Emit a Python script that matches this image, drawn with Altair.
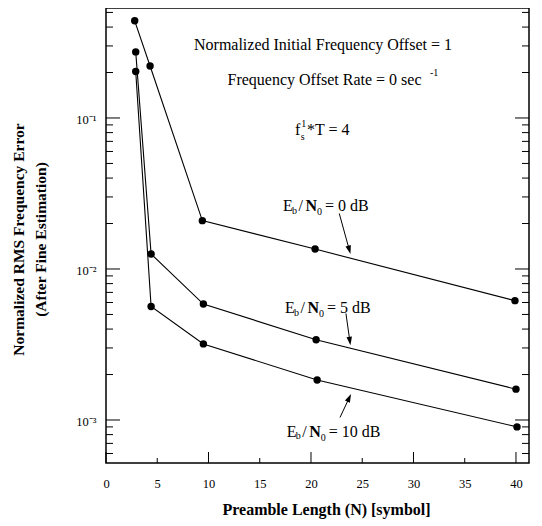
import altair as alt
import pandas as pd

# ---------------- data ----------------
N_0dB = [2.8, 4.3, 9.4, 20.4, 39.9]
err_0dB = [0.440, 0.221, 0.0209, 0.01355, 0.00617]
N_5dB = [2.9, 4.4, 9.5, 20.5, 40.0]
err_5dB = [0.274, 0.01257, 0.00586, 0.0034, 0.0016]
N_10dB = [2.9, 4.4, 9.5, 20.6, 40.1]
err_10dB = [0.203, 0.00565, 0.00319, 0.00184, 0.00090]

x_tick_values = [0, 5, 10, 15, 20, 25, 30, 35, 40]
x_major_ticks = [0, 10, 20, 30, 40]
x_minor_ticks = [5, 15, 25, 35]
y_major_ticks = [0.001, 0.01, 0.1]

X_TITLE = "Preamble Length (N) [symbol]"
Y_TITLE = ["Normalized RMS Frequency Error", "(After Fine Estimation)"]

# annotation anchors (data units)
note_text = ["Normalized Initial Frequency Offset = 1", "Frequency Offset Rate = 0 sec"]
note_x = [21.17, 21.32]
note_y = [0.304, 0.1786]
fT_x = [18.44]
fT_y = [0.0834]
eb_rest = ["= 0 dB", "= 5 dB", "= 10 dB"]
eb_x = [17.27, 17.46, 17.63]
eb_y = [0.0261, 0.00549, 0.000837]
arrow_x0 = [22.76, 23.41, 22.83]
arrow_y0 = [0.02331, 0.005074, 0.001039]
arrow_x1 = [23.72, 23.78, 23.70]
arrow_y1 = [0.01352, 0.003368, 0.001388]
arrow_angle = [164.6, 172.0, 25.1]

# ---------------- layout ----------------
W, H = 423, 455
X_DOMAIN = [0, 41.27]
Y_DOMAIN = [5.19e-4, 0.535]
FONT = "Liberation Serif"

xs = alt.Scale(domain=X_DOMAIN, nice=False, zero=False)
ys = alt.Scale(type="log", domain=Y_DOMAIN, nice=False)

rows = []
for name, nx, ey in [("0 dB", N_0dB, err_0dB), ("5 dB", N_5dB, err_5dB), ("10 dB", N_10dB, err_10dB)]:
    for a, b in zip(nx, ey):
        rows.append({"series": name, "N": a, "err": b})
df = pd.DataFrame(rows)

x_axis = alt.Axis(
    values=x_tick_values, ticks=False, domain=False, grid=False,
    labelFont=FONT, labelFontSize=12.5, labelColor="black", labelPadding=14,
    labelFlush=False, labelOverlap=False,
    titleFont=FONT, titleFontSize=16, titleFontWeight="bold", titleColor="black",
    titleX=220, titleY=46, titleBaseline="middle", titleAlign="center",
)
y_axis = alt.Axis(
    values=y_major_ticks, ticks=False, domain=False, grid=False,
    labelExpr="datum.value >= 0.09 ? '10⁻¹' : datum.value >= 0.009 ? '10⁻²' : '10⁻³'",
    labelFont=FONT, labelFontSize=12.5, labelColor="black", labelPadding=10,
    labelBaseline="middle", labelOffset=2, labelOverlap=False,
    titleFont=FONT, titleFontSize=15.5, titleFontWeight="bold", titleColor="black",
    titleX=-88, titleY=231, titleAngle=270, titleBaseline="middle", titleAlign="center",
    titleLineHeight=22,
)


def X(field):
    return alt.X(field, scale=xs, axis=x_axis, title=X_TITLE)


def Y(field):
    return alt.Y(field, scale=ys, axis=y_axis, title=Y_TITLE)


lines = alt.Chart(df).mark_line(color="black", strokeWidth=1.1).encode(
    x=X("N:Q"), y=Y("err:Q"), detail="series:N",
)
points = alt.Chart(df).mark_point(filled=True, shape="circle", size=55, color="black", opacity=1).encode(
    x=X("N:Q"), y=Y("err:Q"),
)

# ---------------- ticks (inward) ----------------
y_minor = [k * 10.0 ** e for e in (-4, -3, -2, -1) for k in range(2, 10)
           if Y_DOMAIN[0] <= k * 10.0 ** e <= Y_DOMAIN[1]]


def yticks(vals, x0, x1):
    return alt.Chart(pd.DataFrame({"v": vals})).mark_rule(color="black", strokeWidth=1).encode(
        y=Y("v:Q"), x=alt.value(x0), x2=alt.value(x1))


def xticks(vals, length):
    return alt.Chart(pd.DataFrame({"v": vals})).mark_rule(color="black", strokeWidth=1).encode(
        x=X("v:Q"), y=alt.value(H), y2=alt.value(H - length))


tick_layers = [
    yticks(y_major_ticks, 0, 14), yticks(y_minor, 0, 7),
    yticks(y_major_ticks, W, W - 14), yticks(y_minor, W, W - 7),
    xticks(x_major_ticks, 11), xticks(x_minor_ticks, 5),
]

# ---------------- annotations ----------------


def txt(data, dx, dy, size, text=None, bold=False, align="left"):
    kw = dict(align=align, baseline="middle", dx=dx, dy=dy, font=FONT, fontSize=size,
              fontWeight="bold" if bold else "normal", color="black")
    if text is not None:
        kw["text"] = text
    ch = alt.Chart(data).mark_text(**kw)
    enc = dict(x=X("x:Q"), y=Y("y:Q"))
    if text is None:
        enc["text"] = alt.Text("t:N")
    return ch.encode(**enc)


notes_df = pd.DataFrame({"x": note_x, "y": note_y, "t": note_text})
sup_df = pd.DataFrame({"x": note_x[1:], "y": note_y[1:]})
fT_df = pd.DataFrame({"x": fT_x, "y": fT_y})
eb_df = pd.DataFrame({"x": eb_x, "y": eb_y, "t": eb_rest})

ann_layers = [
    txt(notes_df, 0, 0, 16, align="center"),
    txt(sup_df, 105.5, -6.5, 10, text="-1"),
    txt(fT_df, 0, 0, 16, text="f"),
    txt(fT_df, 6.3, -5.5, 10, text="1"),
    txt(fT_df, 5.8, 7.5, 10, text="s"),
    txt(fT_df, 12, 0, 16, text="*T = 4"),
    txt(eb_df, 0, 0, 16, text="E"),
    txt(eb_df, 9, 4.5, 10, text="b"),
    txt(eb_df, 15.5, 0, 16, text="/"),
    txt(eb_df, 22.5, 0, 16, text="N", bold=True),
    txt(eb_df, 34, 6, 10, text="0"),
    txt(eb_df, 42, 0, 16),
]

arrows_df = pd.DataFrame({"x0": arrow_x0, "y0": arrow_y0, "x1": arrow_x1,
                          "y1": arrow_y1, "ang": arrow_angle})
arrow_lines = alt.Chart(arrows_df).mark_rule(color="black", strokeWidth=1).encode(
    x=X("x0:Q"), y=Y("y0:Q"), x2="x1:Q", y2="y1:Q")
arrow_heads = alt.Chart(arrows_df).mark_point(
    shape="M0,-1L0.55,0.7L-0.55,0.7Z", filled=True, size=100, color="black", opacity=1
).encode(
    x=X("x1:Q"), y=Y("y1:Q"), angle=alt.Angle("ang:Q", scale=None))

chart = alt.layer(lines, points, *tick_layers, *ann_layers, arrow_lines, arrow_heads).properties(
    width=W, height=H,
    autosize=alt.AutoSizeParams(type="none"),
    padding={"left": 98, "top": 0, "right": 5, "bottom": 58},
    background="white",
).configure_view(stroke="black", strokeWidth=1.5)

chart.save("out.html", embed_options={"renderer": "svg", "actions": False})
